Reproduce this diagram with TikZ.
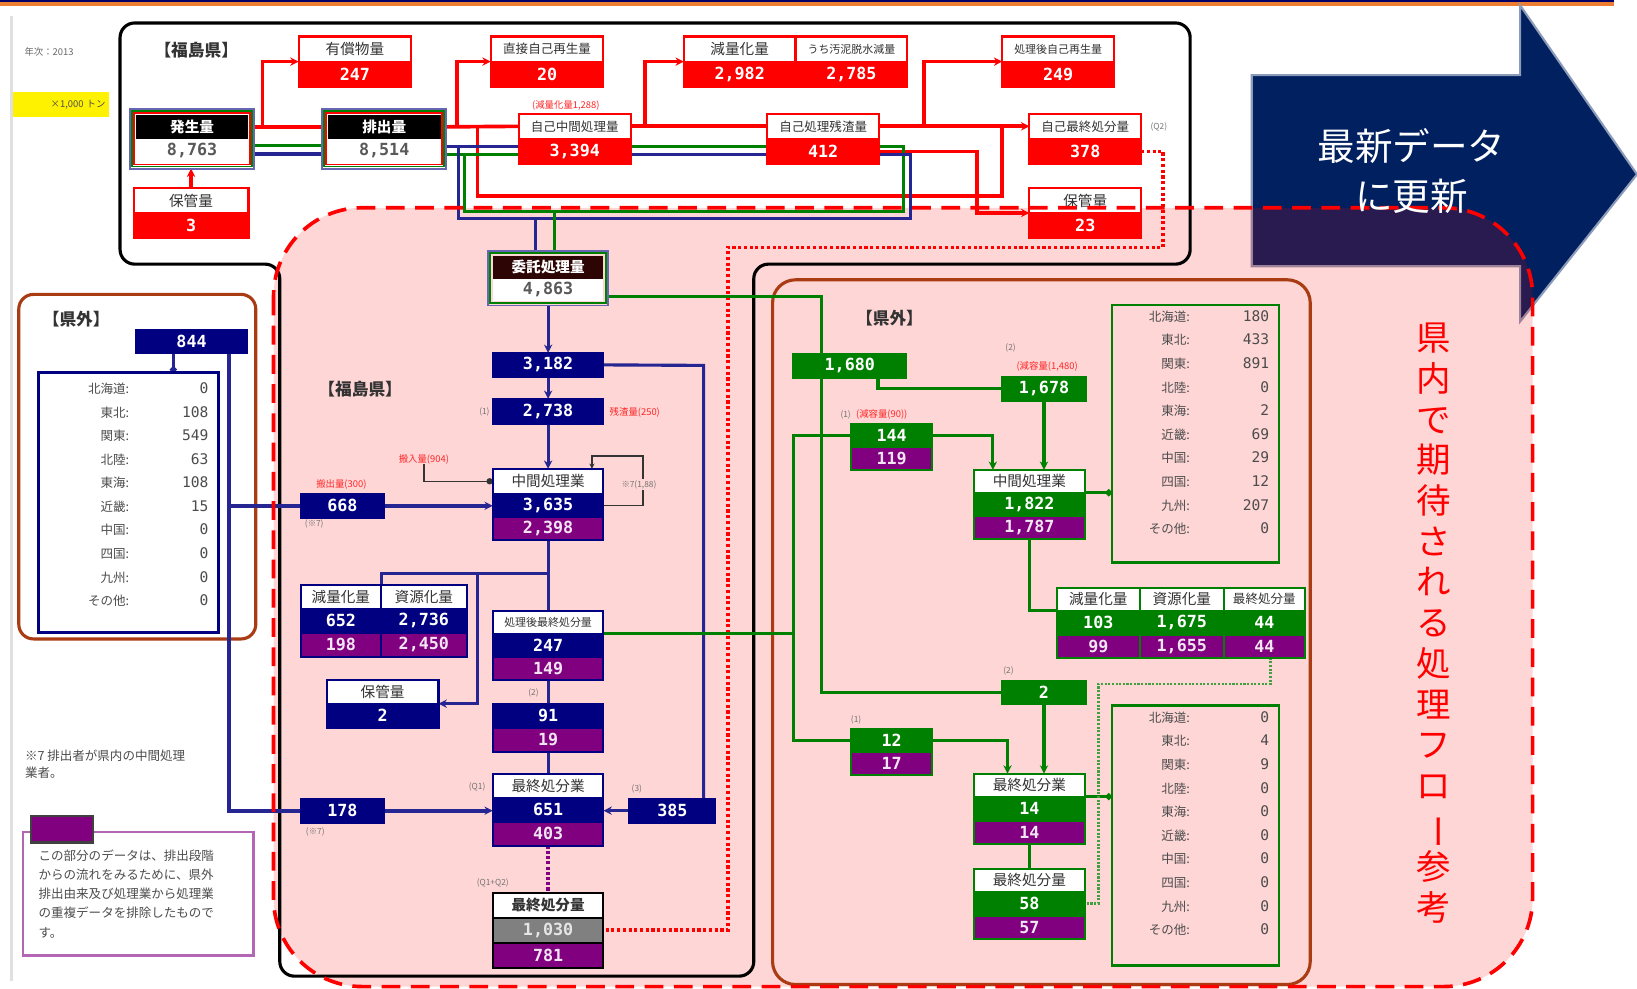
\documentclass[tikz,border=0pt]{standalone}
\usepackage{fontspec}
\setmainfont{Noto Sans CJK JP}
\newfontfamily\numfam{DejaVu Sans Mono}
\usetikzlibrary{arrows.meta, positioning, fit, calc, backgrounds}
\definecolor{jnavy}{RGB}{0,0,128}
\definecolor{jgreen}{RGB}{0,128,0}
\definecolor{jpurple}{RGB}{128,0,128}
\definecolor{jred}{RGB}{255,0,0}
\definecolor{jbrown}{RGB}{170,60,20}
\definecolor{arrnavy}{RGB}{0,32,96}
\definecolor{jorange}{RGB}{237,125,49}
\definecolor{jgray}{RGB}{128,128,128}
\definecolor{jmaroon}{RGB}{45,5,5}
\newcommand\hdfont{\fontsize{14}{14}\selectfont}
\newcommand\hdsmall{\fontsize{12}{12}\selectfont}
\newcommand\hdtiny{\fontsize{10.5}{10.5}\selectfont}
\newcommand\numfont{\numfam\bfseries\fontsize{16}{16}\selectfont}
\newcommand\lv[1]{\makebox[76pt][r]{\numfam\fontsize{14}{14}\selectfont #1}}

\begin{document}
\begin{tikzpicture}[
    x=1pt, y=-1pt,
    every node/.style={inner sep=0pt, outer sep=0pt},
    hdrow/.style={draw=#1, line width=2pt, fill=white, minimum height=24pt, text=black!80, font=\hdfont},
    numrow/.style={draw=#1, line width=2pt, fill=#1, minimum height=24pt, text=white, font=\numfont},
    purprow/.style={draw=#1, line width=2pt, fill=jpurple, minimum height=23pt, text=white!90!jpurple, font=\numfont},
    blkhdr/.style={fill=black, text=white, font=\hdfont\bfseries, minimum height=23pt},
    whval/.style={fill=white, text=black!65, font=\numfont, minimum height=23pt},
    listbox/.style={draw=#1, line width=2.5pt},
    listtab/.style={anchor=north, font=\fontsize{12}{22.6}\selectfont, text=black!70},
    areaname/.style={font=\fontsize{16}{16}\selectfont\bfseries, text=black!80},
    smlbl/.style={font=\fontsize{8}{8}\selectfont, text=black!55},
    redlbl/.style={font=\fontsize{9}{9}\selectfont, text=jred!85},
    redln/.style={draw=jred, line width=3.5pt},
    navyln/.style={draw=jnavy!85, line width=3pt},
    greenln/.style={draw=jgreen, line width=3pt},
    thinln/.style={draw=black!80, line width=1.5pt},
    reddot/.style={draw=jred, line width=3.5pt, dash pattern=on 3pt off 2.5pt},
    greendot/.style={draw=jgreen!75, line width=2.5pt, dash pattern=on 2pt off 1.5pt},
    purpdot/.style={draw=jpurple, line width=4pt, dash pattern=on 3pt off 2pt},
    arrow/.style={-{Stealth[length=8pt, width=8pt]}},
    smallarrow/.style={-{Stealth[length=5pt, width=5pt]}},
    dotend/.style={-{Circle[length=6pt]}}
]
\useasboundingbox (0,0) rectangle (1568,947);

% Slide frame, update arrow and highlighted area
\begin{scope}[on background layer]
\fill[white] (0,0) rectangle (1568,947);
\fill[jnavy!80!black] (0,0) rectangle (1546,2);
\fill[jorange] (0,2) rectangle (1546,6);
\draw[black!12, line width=2pt] (11,15) -- (11,940);
\filldraw[fill=arrnavy, draw=arrnavy!45!white, line width=2pt] (1199,72) -- (1456,72) -- (1456,5) -- (1568,167) -- (1456,308) -- (1456,255) -- (1199,255) -- cycle;
\fill[jred, fill opacity=0.16, rounded corners=85pt] (262,199) rectangle (1468,945);
\draw[black, line width=3pt, rounded corners=14pt] (115,22) -- (1140,22) -- (1140,253) -- (722,253) -- (722,935) -- (268,935) -- (268,253) -- (115,253) -- cycle;
\draw[jbrown, line width=3pt, rounded corners=14pt] (18,282) rectangle (245,612);
\draw[jbrown, line width=3pt, rounded corners=22pt] (740,268) rectangle (1255,943);
\end{scope}

% Notes
\node[font=\fontsize{9}{9}\selectfont, text=black!60] (nenji) at (47,50) {年次：2013};
\node[fill=yellow, minimum height=24pt, text width=86pt, inner xsep=3pt, align=right, anchor=north west, font=\fontsize{9}{9}\selectfont, text=black!70] (unitLbl) at (12,88) {×1,000 トン};

% Upper frame: self treatment by the producers
\node[areaname] (fukuTop) at (188,48) {【福島県】};
\node[blkhdr, minimum width=108pt, anchor=north west] (hasseiH) at (130,110) {発生量};
\node[whval, minimum width=108pt, below=0pt of hasseiH] (hasseiV) {8,763};
\node[fit=(hasseiH)(hasseiV), inner sep=1.5pt, draw=jred, line width=1.6pt] (hasseiR) {};
\node[fit=(hasseiH)(hasseiV), inner sep=3.5pt, draw=jgreen, line width=1.8pt] (hasseiG) {};
\node[fit=(hasseiH)(hasseiV), inner sep=5.5pt, draw=jnavy!60, line width=1.8pt] (hassei) {};

\node[blkhdr, minimum width=108pt, anchor=north west] (haishutsuH) at (314,110) {排出量};
\node[whval, minimum width=108pt, below=0pt of haishutsuH] (haishutsuV) {8,514};
\node[fit=(haishutsuH)(haishutsuV), inner sep=1.5pt, draw=jred, line width=1.6pt] (haishutsuR) {};
\node[fit=(haishutsuH)(haishutsuV), inner sep=3.5pt, draw=jgreen, line width=1.8pt] (haishutsuG) {};
\node[fit=(haishutsuH)(haishutsuV), inner sep=5.5pt, draw=jnavy!60, line width=1.8pt] (haishutsu) {};

\node[hdrow=jred, minimum width=110pt, anchor=north west] (hokan3H) at (128,180) {保管量};
\node[numrow=jred, minimum width=110pt, below=0pt of hokan3H] (hokan3V) {3};

\node[hdrow=jred, minimum width=108pt, anchor=north west] (yushoH) at (286,35) {有償物量};
\node[numrow=jred, minimum width=108pt, below=0pt of yushoH] (yushoV) {247};

\node[hdrow=jred, minimum width=108pt, font=\hdsmall, anchor=north west] (chokuH) at (470,35) {直接自己再生量};
\node[numrow=jred, minimum width=108pt, below=0pt of chokuH] (chokuV) {20};

\node[hdrow=jred, minimum width=107pt, anchor=north west] (genryoH) at (655,35) {減量化量};
\node[hdrow=jred, minimum width=107pt, font=\hdtiny, right=0pt of genryoH] (osuiH) {うち汚泥脱水減量};
\node[numrow=jred, minimum width=107pt, below=0pt of genryoH] (genryoV) {2,982};
\node[numrow=jred, minimum width=107pt, below=0pt of osuiH] (osuiV) {2,785};

\node[hdrow=jred, minimum width=107pt, font=\hdtiny, anchor=north west] (shorigoH) at (960,35) {処理後自己再生量};
\node[numrow=jred, minimum width=107pt, below=0pt of shorigoH] (shorigoV) {249};

\node[hdrow=jred, minimum width=107pt, font=\hdsmall, anchor=north west] (jikochuH) at (497,109) {自己中間処理量};
\node[numrow=jred, minimum width=107pt, below=0pt of jikochuH] (jikochuV) {3,394};
\node[redlbl] (jikochuLbl) at (542,101) {(減量化量1,288)};

\node[hdrow=jred, minimum width=107pt, font=\hdsmall, anchor=north west] (zansaH) at (735,109) {自己処理残渣量};
\node[numrow=jred, minimum width=107pt, below=0pt of zansaH] (zansaV) {412};

\node[hdrow=jred, minimum width=107pt, font=\hdsmall, anchor=north west] (jikosaiH) at (986,109) {自己最終処分量};
\node[numrow=jred, minimum width=107pt, below=0pt of jikosaiH] (jikosaiV) {378};
\node[smlbl] (q2Lbl) at (1110,122) {(Q2)};

\node[hdrow=jred, minimum width=107pt, anchor=north west] (hokan23H) at (986,180) {保管量};
\node[numrow=jred, minimum width=107pt, below=0pt of hokan23H] (hokan23V) {23};

% Lower frame: contractors in the prefecture (navy)
\node[areaname] (fukuMid) at (345,373) {【福島県】};
\node[fill=jmaroon, text=white, font=\hdfont\bfseries, minimum width=106pt, minimum height=22pt, anchor=north west] (itakuH) at (472,245) {委託処理量};
\node[whval, minimum width=106pt, minimum height=21pt, below=0pt of itakuH] (itakuV) {4,863};
\node[fit=(itakuH)(itakuV), inner sep=2.5pt, draw=jgreen, line width=2pt] (itakuG) {};
\node[fit=(itakuH)(itakuV), inner sep=4.5pt, draw=jnavy!60, line width=1.6pt] (itaku) {};

\node[numrow=jnavy, minimum width=106pt, minimum height=23pt, anchor=north west] (n3182) at (472,338) {3,182};
\node[numrow=jnavy, minimum width=106pt, anchor=north west] (n2738) at (472,382) {2,738};
\node[smlbl] (n2738Lbl) at (464,395) {(1)};
\node[redlbl, anchor=west] (n2738Red) at (584,395) {残渣量(250)};

\node[hdrow=jnavy, minimum width=106pt, anchor=north west] (chukanH) at (472,449) {中間処理業};
\node[numrow=jnavy, minimum width=106pt, minimum height=22pt, below=0pt of chukanH] (chukanN) {3,635};
\node[purprow=jnavy, minimum width=106pt, minimum height=22pt, below=0pt of chukanN] (chukanP) {2,398};
\node[redlbl] (hannyuLbl) at (406,440) {搬入量(904)};
\node[smlbl, fill=red!16!white, inner sep=1pt] (loopLbl) at (612,464) {※7(1,88)};

\node[numrow=jnavy, minimum width=80pt, minimum height=23pt, anchor=north west] (n668) at (288,473) {668};
\node[redlbl] (n668Red) at (327,464) {搬出量(300)};
\node[smlbl] (n668Note) at (301,502) {(※7)};

\node[hdrow=jnavy, minimum width=77pt, minimum height=23pt, anchor=north west] (genshi1H) at (288,560) {減量化量};
\node[hdrow=jnavy, minimum width=82pt, minimum height=23pt, right=0pt of genshi1H] (genshi2H) {資源化量};
\node[numrow=jnavy, minimum width=77pt, minimum height=23pt, below=0pt of genshi1H] (genshi1N) {652};
\node[numrow=jnavy, minimum width=82pt, minimum height=23pt, below=0pt of genshi2H] (genshi2N) {2,736};
\node[purprow=jnavy, minimum width=77pt, below=0pt of genshi1N] (genshi1P) {198};
\node[purprow=jnavy, minimum width=82pt, below=0pt of genshi2N] (genshi2P) {2,450};

\node[hdrow=jnavy, minimum width=107pt, minimum height=23pt, anchor=north west] (hokan2H) at (313,651) {保管量};
\node[numrow=jnavy, minimum width=107pt, minimum height=23pt, below=0pt of hokan2H] (hokan2N) {2};

\node[hdrow=jnavy, minimum width=106pt, minimum height=22pt, font=\hdtiny, anchor=north west] (shosaiH) at (472,585) {処理後最終処分量};
\node[numrow=jnavy, minimum width=106pt, minimum height=22pt, below=0pt of shosaiH] (shosaiN) {247};
\node[purprow=jnavy, minimum width=106pt, minimum height=22pt, below=0pt of shosaiN] (shosaiP) {149};

\node[numrow=jnavy, minimum width=106pt, minimum height=23pt, anchor=north west] (n91N) at (472,674) {91};
\node[purprow=jnavy, minimum width=106pt, below=0pt of n91N] (n91P) {19};
\node[smlbl] (n91Lbl) at (511,664) {(2)};

\node[hdrow=jnavy, minimum width=106pt, minimum height=23pt, anchor=north west] (saishuH) at (472,741) {最終処分業};
\node[numrow=jnavy, minimum width=106pt, minimum height=23pt, below=0pt of saishuH] (saishuN) {651};
\node[purprow=jnavy, minimum width=106pt, below=0pt of saishuN] (saishuP) {403};
\node[smlbl] (saishuLbl) at (457,754) {(Q1)};

\node[numrow=jnavy, minimum width=80pt, minimum height=23pt, anchor=north west] (n178) at (288,765) {178};
\node[smlbl] (n178Note) at (302,797) {(※7)};
\node[numrow=jnavy, minimum width=82pt, minimum height=23pt, anchor=north west] (n385) at (603,765) {385};
\node[smlbl] (n385Lbl) at (610,756) {(3)};

\node[hdrow=black, minimum width=106pt, font=\hdfont\bfseries, anchor=north west] (saishuryoH) at (472,855) {最終処分量};
\node[draw=black, line width=2pt, fill=jgray, text=white!90!black, font=\numfont, minimum width=106pt, minimum height=24pt, below=0pt of saishuryoH] (saishuryoG) {1,030};
\node[purprow=black, minimum width=106pt, minimum height=24pt, below=0pt of saishuryoG] (saishuryoP) {781};
\node[smlbl] (saishuryoLbl) at (472,846) {(Q1+Q2)};

% Left frame: out of the prefecture (navy)
\node[areaname] (kengaiL) at (73,306) {【県外】};
\node[numrow=jnavy, minimum width=107pt, minimum height=22pt, anchor=north west] (n844) at (130,316) {844};
\node[listbox=jnavy, minimum width=172pt, minimum height=249pt, anchor=north west] (list1) at (37,357) {};
\node[listtab] (list1T) at (142,361) {\begin{tabular}{@{}r@{}r@{}}
北海道: & \lv{0}\\ 東北: & \lv{108}\\ 関東: & \lv{549}\\ 北陸: & \lv{63}\\ 東海: & \lv{108}\\
近畿: & \lv{15}\\ 中国: & \lv{0}\\ 四国: & \lv{0}\\ 九州: & \lv{0}\\ その他: & \lv{0}
\end{tabular}};

% Right frame: out of the prefecture (green)
\node[areaname] (kengaiR) at (852,305) {【県外】};
\node[numrow=jgreen, minimum width=108pt, minimum height=23pt, anchor=north west] (g1680) at (760,339) {1,680};
\node[numrow=jgreen, minimum width=80pt, minimum height=23pt, anchor=north west] (g1678) at (960,361) {1,678};
\node[smlbl] (g1678Lbl) at (968,333) {(2)};
\node[redlbl] (g1678Red) at (1003,351) {(減容量(1,480)};
\node[numrow=jgreen, minimum width=78pt, minimum height=22pt, anchor=north west] (g144N) at (815,406) {144};
\node[purprow=jgreen, minimum width=78pt, minimum height=22pt, below=0pt of g144N] (g144P) {119};
\node[smlbl] (g144Lbl) at (810,397) {(1)};
\node[redlbl, anchor=west] (g144Red) at (820,397) {(減容量(90))};

\node[hdrow=jgreen, minimum width=106pt, minimum height=22pt, anchor=north west] (gchukanH) at (933,450) {中間処理業};
\node[numrow=jgreen, minimum width=106pt, minimum height=22pt, below=0pt of gchukanH] (gchukanN) {1,822};
\node[purprow=jgreen, minimum width=106pt, minimum height=22pt, below=0pt of gchukanN] (gchukanP) {1,787};

\node[listbox=jgreen, minimum width=160pt, minimum height=247pt, anchor=north west] (list2) at (1065,292) {};
\node[listtab] (list2T) at (1158,292) {\begin{tabular}{@{}r@{}r@{}}
北海道: & \lv{180}\\ 東北: & \lv{433}\\ 関東: & \lv{891}\\ 北陸: & \lv{0}\\ 東海: & \lv{2}\\
近畿: & \lv{69}\\ 中国: & \lv{29}\\ 四国: & \lv{12}\\ 九州: & \lv{207}\\ その他: & \lv{0}
\end{tabular}};

\node[hdrow=jgreen, minimum width=80pt, minimum height=22pt, anchor=north west] (ggen1H) at (1012,563) {減量化量};
\node[hdrow=jgreen, minimum width=80pt, minimum height=22pt, right=0pt of ggen1H] (ggen2H) {資源化量};
\node[hdrow=jgreen, minimum width=78pt, minimum height=22pt, font=\hdsmall, right=0pt of ggen2H] (ggen3H) {最終処分量};
\node[numrow=jgreen, minimum width=80pt, minimum height=23pt, below=0pt of ggen1H] (ggen1N) {103};
\node[numrow=jgreen, minimum width=80pt, minimum height=23pt, below=0pt of ggen2H] (ggen2N) {1,675};
\node[numrow=jgreen, minimum width=78pt, minimum height=23pt, below=0pt of ggen3H] (ggen3N) {44};
\node[purprow=jgreen, minimum width=80pt, minimum height=22pt, below=0pt of ggen1N] (ggen1P) {99};
\node[purprow=jgreen, minimum width=80pt, minimum height=22pt, below=0pt of ggen2N] (ggen2P) {1,655};
\node[purprow=jgreen, minimum width=78pt, minimum height=22pt, below=0pt of ggen3N] (ggen3P) {44};

\node[numrow=jgreen, minimum width=80pt, minimum height=22pt, anchor=north west] (g2) at (960,652) {2};
\node[smlbl] (g2Lbl) at (966,643) {(2)};
\node[numrow=jgreen, minimum width=78pt, minimum height=22pt, anchor=north west] (g12N) at (815,698) {12};
\node[purprow=jgreen, minimum width=78pt, minimum height=22pt, below=0pt of g12N] (g12P) {17};
\node[smlbl] (g12Lbl) at (820,690) {(1)};

\node[hdrow=jgreen, minimum width=106pt, minimum height=22pt, anchor=north west] (gsaishuH) at (933,741) {最終処分業};
\node[numrow=jgreen, minimum width=106pt, minimum height=23pt, below=0pt of gsaishuH] (gsaishuN) {14};
\node[purprow=jgreen, minimum width=106pt, minimum height=22pt, below=0pt of gsaishuN] (gsaishuP) {14};

\node[hdrow=jgreen, minimum width=106pt, minimum height=22pt, anchor=north west] (gsaishuryoH) at (933,832) {最終処分量};
\node[numrow=jgreen, minimum width=106pt, minimum height=23pt, below=0pt of gsaishuryoH] (gsaishuryoN) {58};
\node[purprow=jgreen, minimum width=106pt, minimum height=22pt, below=0pt of gsaishuryoN] (gsaishuryoP) {57};

\node[listbox=jgreen, minimum width=160pt, minimum height=249pt, anchor=north west] (list3) at (1065,676) {};
\node[listtab] (list3T) at (1158,676) {\begin{tabular}{@{}r@{}r@{}}
北海道: & \lv{0}\\ 東北: & \lv{4}\\ 関東: & \lv{9}\\ 北陸: & \lv{0}\\ 東海: & \lv{0}\\
近畿: & \lv{0}\\ 中国: & \lv{0}\\ 四国: & \lv{0}\\ 九州: & \lv{0}\\ その他: & \lv{0}
\end{tabular}};

% Bends of the connectors
\coordinate (bypassR) at (960,188);
\coordinate (nvA) at (439,140);
\coordinate (grA) at (445,148);
\coordinate (chNL) at (439,209);
\coordinate (chNR) at (872,209);
\coordinate (chGL) at (445,203);
\coordinate (chGR) at (865,203);
\coordinate (dropN) at (513,209);
\coordinate (dropG) at (531,203);
\coordinate (rdotA) at (1114,237);
\coordinate (rdotB) at (697,237);
\coordinate (ltrunk) at (219,338);
\coordinate (rtrunk) at (674,350);
\coordinate (cjunc) at (525,549);
\coordinate (hjunc) at (457,549);
\coordinate (loopTR) at (616,437);
\coordinate (gtrunk) at (787,284);
\coordinate (gsplit) at (760,607);
\coordinate (gdotR) at (1217,655);
\coordinate (gdotL) at (1052,655);

\begin{scope}[on background layer]
% red: self treatment
\draw[redln] (hassei.east |- hasseiH) -- (haishutsu.west |- hasseiH);
\draw[redln, arrow] ($(hassei.east |- hasseiH)+(8,0)$) |- (yushoH.south west);
\draw[redln, arrow] (hokan3H.north) -- (hokan3H.north |- hassei.south);
\draw[redln] (haishutsu.east |- haishutsuH) -- (jikochuH.west);
\draw[redln, arrow] ($(haishutsu.east |- haishutsuH)+(10,0)$) |- (chokuH.south west);
\draw[redln] ($(haishutsu.east |- haishutsuH)+(30,0)$) |- (bypassR) -- (bypassR |- zansaH);
\draw[redln] (jikochuH.east) -- (zansaH.west);
\draw[redln, arrow] ($(jikochuH.east)+(14,0)$) |- (genryoH.south west);
\draw[redln, arrow] (zansaH.east) -- (jikosaiH.west);
\draw[redln, arrow] ($(zansaH.east)+(43,0)$) |- (shorigoH.south west);
\draw[redln, arrow] (zansaV.east) -| ($(hokan23H.south west)+(-50,0)$) -- (hokan23H.south west);
\draw[reddot] (jikosaiV.east) -| (rdotA) -- (rdotB) |- (saishuryoG.east);

% green and navy: to contractors
\draw[greenln] ($(hassei.east |- hasseiV)+(0,-5)$) -- ($(haishutsu.west |- hasseiV)+(0,-5)$);
\draw[navyln] ($(hassei.east |- hasseiV)+(0,3)$) -- ($(haishutsu.west |- hasseiV)+(0,3)$);
\draw[navyln] (haishutsu.east |- nvA) -- (jikochuV.west |- nvA);
\draw[greenln] (haishutsu.east |- grA) -- (jikochuV.west |- grA);
\draw[greenln] (jikochuV.east |- nvA) -- (zansaV.west |- nvA);
\draw[navyln] (jikochuV.east |- grA) -- (zansaV.west |- grA);
\draw[greenln] (zansaV.east |- nvA) -| (chGR) -- (chGL) -- (grA);
\draw[navyln] (zansaV.east |- grA) -| (chNR) -- (chNL) -- (nvA);
\draw[navyln] (dropN) -- (dropN |- itaku.north);
\draw[greenln] (dropG) -- (dropG |- itaku.north);

% navy: in the prefecture
\draw[navyln, arrow] (itaku.south) -- (n3182.north);
\draw[navyln, arrow] (n3182.south) -- (n2738.north);
\draw[navyln, arrow] (n2738.south) -- (chukanH.north);
\draw[navyln] (n3182.east) -- (rtrunk) -- (rtrunk |- n385.north);
\draw[navyln, arrow] (n385.west) -- (n385.west -| saishuN.east);
\draw[navyln, line width=4pt, arrow] (n178.east) -- (n178.east -| saishuN.west);
\draw[navyln, line width=4pt, arrow] (n668.east) -- (n668.east -| chukanN.west);
\draw[navyln, line width=4pt] (ltrunk) |- (n178.west);
\draw[navyln, line width=4pt] (ltrunk |- n668) -- (n668.west);
\draw[navyln, dotend] ($(n844.south)+(-17.5,0)$) coordinate (n844drop) -- (n844drop |- list1.north);
\draw[thinln, dotend] (hannyuLbl.south) |- (chukanH.west);
\draw[thinln, smallarrow] (chukanN.east) -| (loopTR) -| ($(chukanH.north east)+(-11,0)$);
\draw[navyln] (chukanP.south) -- (shosaiH.north);
\draw[navyln] (cjunc) -| (genshi1H.north east);
\draw[navyln, arrow] (hjunc) |- (hokan2H.south east);
\draw[navyln] (shosaiP.south) -- (n91N.north);
\draw[navyln] (n91P.south) -- (saishuH.north);
\draw[purpdot] (saishuP.south) -- (saishuryoH.north);

% green: out of the prefecture
\draw[greenln] (itaku.east |- gtrunk) -- (gtrunk) |- (g2.west);
\draw[greenln] ($(g1680.south)+(27,0)$) |- (g1678.west);
\draw[greenln, arrow] (g1678.south) -- (g1678.south |- gchukanH.north);
\draw[greenln, arrow] (g144N.east) -| ($(gchukanH.north west)+(18,0)$);
\draw[greenln] (shosaiH.south east) -- (gsplit);
\draw[greenln] (g144N.west) -| (gsplit) |- (g12N.west);
\draw[greenln] (gchukanP.south) |- (ggen1H.south west);
\draw[greenln, dotend] (gchukanH.south east) -- (gchukanH.south east -| list2.west);
\draw[greenln, arrow] (g2.south) -- (g2.south |- gsaishuH.north);
\draw[greenln, arrow] (g12N.east) -| ($(gsaishuH.north west)+(32,0)$);
\draw[greenln] (gsaishuP.south) -- (gsaishuryoH.north);
\draw[greenln, dotend] (gsaishuH.south east) -- (gsaishuH.south east -| list3.west);
\draw[greendot] (gdotR |- ggen3P.south) -- (gdotR) -- (gdotL) |- (gsaishuryoN.east);
\end{scope}

% Expected in-prefecture flow (reference)
\draw[jred, line width=3.5pt, dash pattern=on 18pt off 10pt, rounded corners=85pt] (262,199) rectangle (1468,945);
\node[font=\fontsize{33}{39}\selectfont, text=jred, align=center] (vtitle) at (1373,597) {県\\内\\で\\期\\待\\さ\\れ\\る\\処\\理\\フ\\ロ\\\rotatebox[origin=c]{-90}{ー}\\参\\考};
\node[font=\fontsize{36}{48}\selectfont, text=white, align=center] (arrowTxt) at (1352,164) {最新データ\\に更新};

% Footnotes
\node[anchor=north west, align=left, font=\fontsize{12}{17}\selectfont, text=black!70] (note7) at (24,718) {※7 排出者が県内の中間処理\\業者。};
\node[draw=jpurple!60, line width=2.5pt, fill=white, text width=191pt, inner xsep=15pt, minimum height=118pt, anchor=north west, align=left, font=\fontsize{12}{18.5}\selectfont, text=black!70] (legendBox) at (22,797) {この部分のデータは、排出段階\\からの流れをみるために、県外\\排出由来及び処理業から処理業\\の重複データを排除したもので\\す。};
\node[fill=jpurple, draw=black!75, line width=2pt, minimum width=59pt, minimum height=25pt, anchor=north west] (legendSw) at (30,782) {};

\end{tikzpicture}
\end{document}
